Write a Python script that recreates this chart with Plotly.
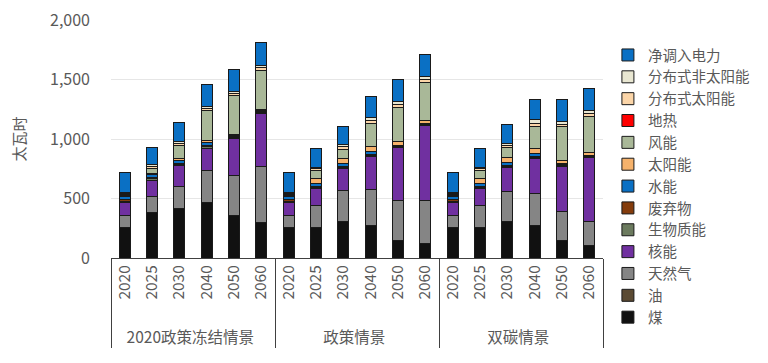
import plotly.graph_objects as go

groups = ["2020政策冻结情景"] * 6 + ["政策情景"] * 6 + ["双碳情景"] * 6
years = ["2020", "2025", "2030", "2040", "2050", "2060"] * 3

coal       = [255, 380, 417, 465, 353, 297,  255, 255, 305, 269, 151, 123,  255, 255, 305, 269, 145, 101]
oil        = [0, 0, 0, 0, 0, 0,  0, 0, 0, 0, 0, 0,  0, 0, 0, 0, 0, 0]
gas        = [106, 135, 182, 274, 338, 475,  106, 184, 266, 310, 336, 364,  106, 184, 258, 274, 250, 204]
nuclear    = [107, 140, 176, 182, 314, 443,  107, 146, 182, 277, 442, 630,  107, 146, 199, 293, 372, 543]
biomass    = [10, 10, 12, 12, 6, 6,  10, 6, 6, 7, 5, 4,  10, 6, 8, 8, 8, 4]
waste      = [10, 9, 11, 10, 8, 10,  10, 7, 7, 7, 5, 4,  10, 7, 8, 8, 8, 4]
hydro      = [28, 25, 25, 28, 8, 6,  28, 25, 27, 25, 9, 6,  28, 25, 22, 22, 12, 4]
solar      = [8, 15, 16, 20, 12, 12,  8, 42, 44, 44, 28, 26,  8, 42, 45, 47, 28, 24]
wind       = [10, 42, 110, 252, 330, 329,  10, 74, 76, 191, 289, 317,  10, 74, 84, 181, 279, 302]
geothermal = [0, 0, 0, 0, 0, 0,  0, 0, 0, 0, 0, 0,  0, 0, 0, 0, 0, 0]
dist_solar = [8, 14, 14, 14, 14, 20,  8, 11, 25, 26, 25, 28,  8, 11, 20, 30, 22, 28]
dist_other = [6, 14, 14, 14, 14, 22,  6, 11, 17, 24, 22, 23,  6, 11, 14, 33, 20, 23]
net_import = [168, 145, 160, 190, 188, 188,  168, 163, 153, 173, 191, 188,  168, 163, 162, 170, 191, 188]

series = [
    ("煤", coal, "#111111"),
    ("油", oil, "#5b4a33"),
    ("天然气", gas, "#858585"),
    ("核能", nuclear, "#7030a0"),
    ("生物质能", biomass, "#6b7a5e"),
    ("废弃物", waste, "#843c0c"),
    ("水能", hydro, "#0a70c4"),
    ("太阳能", solar, "#f6b26b"),
    ("风能", wind, "#a9b898"),
    ("地热", geothermal, "#ff0000"),
    ("分布式太阳能", dist_solar, "#fbd5a8"),
    ("分布式非太阳能", dist_other, "#e9e7d2"),
    ("净调入电力", net_import, "#0a70c4"),
]

FONT = "Noto Sans CJK SC, Microsoft YaHei, sans-serif"
TXT = "#595959"

# rotated year labels; leading no-break spaces add room below them (display only)
year_labels = ["\u00a0\u00a0\u00a0\u00a0" + y for y in years]

fig = go.Figure()
for name, vals, color in series:
    fig.add_trace(go.Bar(
        x=[groups, year_labels], y=vals, name=name,
        marker=dict(color=color, line=dict(color="#1a1a1a", width=1)),
    ))

# page body has an 8px margin, so the figure is 8px smaller and the margins are shifted
fig.update_layout(
    barmode="stack",
    bargap=0.6,
    width=760, height=355,
    margin=dict(l=103, r=165, t=12, b=105, autoexpand=False),
    paper_bgcolor="white", plot_bgcolor="white",
    font=dict(family=FONT, color=TXT, size=14),
    legend=dict(
        traceorder="reversed",
        x=1.010, xanchor="left",
        y=0.92, yanchor="top",
        font=dict(size=14.5, color=TXT, family=FONT),
        tracegroupgap=0,
        bgcolor="rgba(0,0,0,0)",
        maxheight=330,
    ),
    showlegend=True,
)

fig.update_yaxes(
    range=[0, 2000], tickvals=[0, 500, 1000, 1500, 2000], tickformat=",",
    showgrid=True, gridcolor="#e6e6e6", gridwidth=1,
    zeroline=False, showline=False,
    tickfont=dict(size=16, color=TXT),
    ticklabelstandoff=20,
    ticklabeloverflow="allow",
    automargin=False,
    title=dict(text="太瓦时", font=dict(size=15, color=TXT), standoff=25),
)

fig.update_xaxes(
    type="multicategory",
    showline=True, linecolor="#404040", linewidth=1,
    showdividers=True, dividercolor="#404040", dividerwidth=1,
    tickangle=-90,
    tickfont=dict(size=15.5, color=TXT),
    showgrid=False,
    automargin=False,
)

fig.write_html("out.html")
